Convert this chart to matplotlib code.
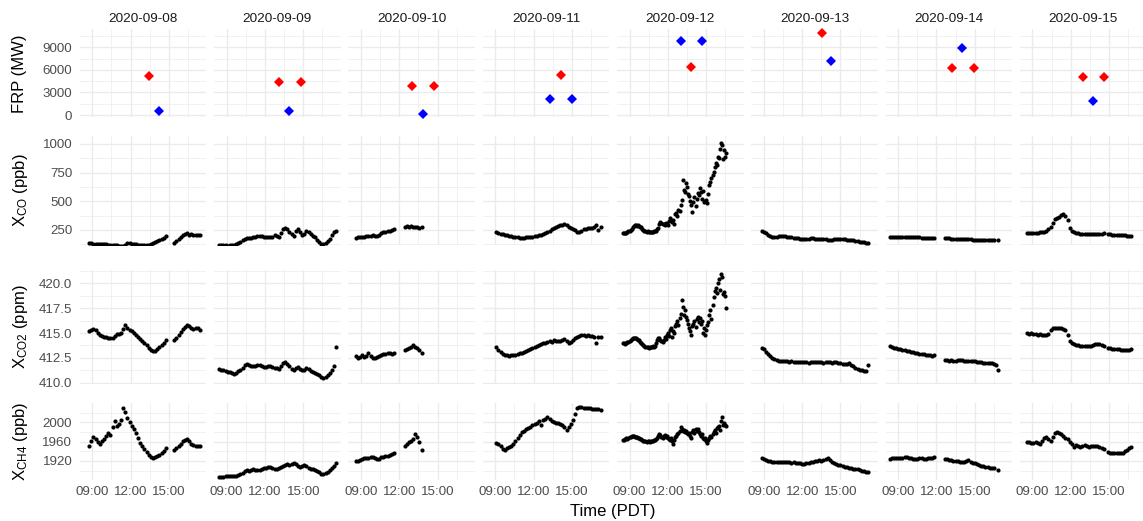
import numpy as np
import matplotlib
matplotlib.use("Agg")
import matplotlib.pyplot as plt
from matplotlib.ticker import FixedLocator, FuncFormatter, FormatStrFormatter

nan = np.nan

# ---------------------------------------------------------------- data
days = ["2020-09-08", "2020-09-09", "2020-09-10", "2020-09-11",
        "2020-09-12", "2020-09-13", "2020-09-14", "2020-09-15"]

# first retrieval of each day (local time) and sampling interval in minutes
start_times = ["08:45", "08:25", "08:35", "09:05", "08:30", "08:50", "08:20", "08:35"]
step_minutes = [10, 10, 10, 10, 5, 10, 10, 10]

# ---- 2020-09-08
xco_0908 = [134, 133, 132, 130, 128, 127, 127, 125, 124, 122, 121, 120, 118, 115, 112,
            110, 112, 122, 135, 138, 130, 126, 124, 120, 116, 115, 116, 118, 122, 128,
            135, 142, 150, 160, 170, 180, 195, nan, nan, nan,
            138, 150, 168, 190, 205, 212, 222, 210, 212, 205, 208, 205, 208]
xco2_0908 = [415.2, 415.3, 415.4, 415.3, 415.0, 414.8, 414.7, 414.6, 414.55, 414.5,
             414.5, 414.45, 414.7, 414.95, 414.9, 415.0, 415.4, 415.8, 415.5, 415.3,
             415.2, 415.0, 414.8, 414.6, 414.4, 414.2, 414.0, 413.8, 413.5, 413.3,
             413.2, 413.2, 413.4, 413.6, 413.8, 414.0, 414.3, nan, nan, nan,
             414.3, 414.5, 414.8, 415.1, 415.4, 415.6, 415.8, 415.7, 415.5, 415.4,
             415.55, 415.5, 415.3]
xch4_0908 = [1952, 1962, 1970, 1965, 1960, 1956, 1962, 1966, 1972, 1978, 1974, 1990,
             2003, 1992, 1997, 2005, 2030, 2022, 2008, 2000, 1993, 1986, 1978, 1968,
             1958, 1950, 1944, 1938, 1933, 1929, 1927, 1928, 1930, 1933, 1936, 1940,
             1946, nan, nan, nan,
             1942, 1946, 1951, 1956, 1961, 1964, 1966, 1961, 1956, 1953, 1952, 1951, 1950]

# ---- 2020-09-09
xco_0909 = [118, 117, 116, 115, 114, 116, 118, 120, 125, 135, 145, 160, 172, 178, 176,
            182, 186, 190, 195, 198, 195, 192, 190, 188, 186, 192, 205, 200, 188, 220,
            255, 268, 255, 235, 215, 200, 240, 255, 230, 210, 215, 245, 235, 218, 200,
            185, 165, 148, 130, 128, 135, 150, 175, 205, 232, 238]
xco2_0909 = [411.4, 411.3, 411.25, 411.2, 411.1, 411.05, 410.95, 410.9, 411.0, 411.15,
             411.3, 411.5, 411.75, 411.85, 411.8, 411.7, 411.65, 411.7, 411.8, 411.75,
             411.7, 411.6, 411.55, 411.65, 411.7, 411.6, 411.5, 411.45, 411.4, 411.7,
             411.95, 412.05, 411.9, 411.65, 411.4, 411.25, 411.5, 411.55, 411.35, 411.25,
             411.3, 411.45, 411.35, 411.15, 411.05, 410.95, 410.9, 410.75, 410.55, 410.5,
             410.6, 410.75, 410.95, 411.3, 411.65, 413.6]
xch4_0909 = [1886, 1887, 1887, 1888, 1888, 1889, 1889, 1890, 1890, 1891, 1893, 1896,
             1899, 1901, 1900, 1902, 1903, 1902, 1901, 1901, 1903, 1905, 1905, 1907,
             1908, 1906, 1903, 1904, 1906, 1908, 1909, 1911, 1913, 1911, 1913, 1915,
             1914, 1910, 1907, 1909, 1912, 1909, 1905, 1904, 1903, 1901, 1899, 1897,
             1894, 1894, 1896, 1897, 1901, 1905, 1910, 1916]

# ---- 2020-09-10
xco_0910 = [183, 185, 188, 190, 193, 196, 198, 200, 204, 200, 195, 205, 222, 230, 235,
            238, 240, 248, 258, nan, nan, nan, nan,
            275, 282, 278, 285, 276, 280, 272, 270, 278]
xco2_0910 = [412.7, 412.5, 412.6, 412.8, 412.55, 412.7, 412.95, 412.7, 412.5, 412.45,
             412.6, 412.72, 412.75, 412.85, 412.9, 413.0, 412.95, 412.85, 412.95,
             nan, nan, nan, nan,
             413.3, 413.4, 413.5, 413.6, 413.75, 413.6, 413.45, 413.3, 413.0]
xch4_0910 = [1919, 1920, 1923, 1925, 1926, 1927, 1927, 1928, 1928, 1926, 1924, 1925,
             1928, 1929, 1930, 1931, 1932, 1934, 1936, nan, nan, nan, nan,
             1950, 1955, 1960, 1962, 1966, 1975, 1970, 1960, 1943]

# ---- 2020-09-11
xco_0911 = [230, 224, 218, 212, 207, 203, 199, 195, 192, 188, 186, 184, 183, 183, 185,
            187, 190, 193, 196, 199, 203, 208, 215, 225, 233, 242, 255, 266, 277, 285,
            292, 297, 299, 294, 280, 268, 260, 248, 235, 232, 245, 258, 262, 264, 266,
            264, 272, 292, 252, 280]
xco2_0911 = [413.6, 413.3, 413.05, 412.9, 412.8, 412.75, 412.72, 412.75, 412.8, 412.78,
             412.85, 412.95, 413.0, 413.05, 413.2, 413.3, 413.4, 413.5, 413.6, 413.7,
             413.8, 413.85, 414.0, 413.95, 414.1, 414.15, 414.1, 414.3, 414.2, 414.15,
             414.2, 414.3, 414.4, 414.2, 414.0, 414.1, 414.3, 414.45, 414.6, 414.7,
             414.8, 414.75, 414.7, 414.75, 414.7, 414.65, 414.6, 414.0, 414.6, 414.55]
xch4_0911 = [1958, 1956, 1952, 1944, 1943, 1947, 1949, 1951, 1955, 1962, 1968, 1974,
             1979, 1983, 1986, 1988, 1990, 1994, 1997, 1999, 2002, 1995, 2004, 2006,
             2010, 2007, 2003, 2001, 1999, 1998, 1996, 1995, 1990, 1984, 1990, 1996,
             2005, 2018, 2030, 2032, 2031, 2030, 2030, 2029, 2029, 2028, 2028, 2027,
             2027, 2026]

# ---- 2020-09-12 (5-minute sampling)
xco_0912 = [221, 222, 224, 228, 230, 238, 245, 250, 262, 272,
            285, 292, 290, 287, 290, 284, 280, 276, 262, 248,
            240, 238, 236, 238, 235, 233, 236, 234, 236, 240,
            238, 245, 255, 270, 300, 320, 312, 305, 300, 290,
            310, 298, 290, 330, 352, 335, 318, 340, 300, 390,
            400, 372, 425, 415, 470, 510, 690, 600, 580, 660,
            628, 560, 545, 500, 470, 405, 495, 540, 460, 520,
            570, 555, 612, 580, 520, 590, 490, 500, 512, 485,
            560, 640, 672, 700, 730, 760, 800, 830, 820, 890,
            880, 960, 1005, 990, 870, 950, 890, 920]
xco2_0912 = [414.0, 413.95, 413.9, 414.0, 414.05, 414.1, 414.15, 414.3, 414.4, 414.45,
             414.5, 414.5, 414.45, 414.4, 414.3, 414.25, 414.1, 414.0, 413.9, 413.75,
             413.65, 413.6, 413.55, 413.6, 413.5, 413.55, 413.6, 413.55, 413.65, 413.6,
             413.7, 414.0, 414.3, 414.5, 414.45, 414.3, 414.2, 414.1, 414.3, 414.6,
             414.4, 414.8, 415.0, 414.7, 415.3, 415.5, 414.6, 415.2, 415.0, 415.7,
             415.9, 416.2, 415.8, 416.5, 416.9, 418.3, 417.6, 416.8, 417.3, 416.6,
             416.3, 415.9, 415.5, 415.2, 414.8, 415.7, 415.9, 416.2, 415.6, 416.4,
             416.6, 416.1, 416.5, 415.9, 416.2, 415.0, 415.5, 414.8, 415.3, 415.8,
             416.1, 416.8, 417.3, 416.4, 417.8, 418.6, 419.2, 419.5, 419.0, 420.0,
             420.4, 419.3, 420.9, 420.6, 418.9, 419.1, 418.7, 417.5]
xch4_0912 = [1963, 1964, 1965, 1967, 1966, 1968, 1969, 1970, 1971, 1972,
             1971, 1970, 1970, 1969, 1968, 1967, 1966, 1965, 1963, 1962,
             1961, 1961, 1960, 1961, 1961, 1960, 1961, 1962, 1962, 1963,
             1963, 1965, 1968, 1972, 1975, 1973, 1970, 1968, 1971, 1973,
             1970, 1972, 1968, 1966, 1964, 1968, 1962, 1955, 1963, 1970,
             1972, 1975, 1977, 1983, 1990, 1986, 1982, 1984, 1979, 1981,
             1977, 1975, 1978, 1972, 1968, 1980, 1984, 1978, 1986, 1983,
             1987, 1980, 1976, 1972, 1975, 1968, 1965, 1967, 1962, 1958,
             1964, 1968, 1972, 1970, 1976, 1980, 1984, 1978, 1988, 1990,
             1992, 1985, 2003, 2012, 1995, 1998, 1994, 1992]

# ---- 2020-09-13
xco_0913 = [241, 236, 222, 205, 195, 192, 193, 192, 194, 196, 198, 196, 192, 188, 186,
            184, 182, 178, 175, 172, 170, 172, 175, 177, 176, 174, 174, 172, 170, 168,
            167, 166, 164, 163, 168, 172, 174, 171, 169, 168, 166, 164, 163, 160, 155,
            150, 146, 143, 141, 140, 140]
xco2_0913 = [413.5, 413.35, 413.1, 412.85, 412.65, 412.5, 412.4, 412.3, 412.2, 412.15,
             412.2, 412.15, 412.2, 412.1, 412.15, 412.1, 412.1, 412.05, 412.1, 412.05,
             412.1, 412.05, 412.0, 412.1, 412.05, 412.1, 412.05, 412.1, 412.05, 412.0,
             412.05, 412.1, 412.05, 412.0, 412.1, 412.05, 412.0, 411.95, 411.9, 411.85,
             411.9, 411.95, 411.8, 411.65, 411.5, 411.4, 411.3, 411.25, 411.2, 411.2,
             411.75]
xch4_0913 = [1927, 1925, 1922, 1920, 1919, 1918, 1918, 1917, 1918, 1917, 1917, 1918,
             1917, 1917, 1916, 1917, 1916, 1915, 1915, 1914, 1913, 1915, 1916, 1917,
             1918, 1920, 1921, 1922, 1921, 1922, 1924, 1926, 1922, 1918, 1916, 1914,
             1912, 1911, 1910, 1908, 1907, 1906, 1905, 1904, 1904, 1903, 1902, 1900,
             1899, 1898, 1897]

# ---- 2020-09-14
xco_0914 = [186, 187, 188, 188, 189, 190, 190, 191, 191, 192, 191, 189, 188, 186, 185,
            184, 183, 182, 181, 180, 179, 179, nan, nan, nan, nan,
            178, 177, 176, 175, 174, 173, 172, 171, 170, 169, 168, 168, 167, 166, 165,
            165, 164, 163, 163, 162, 162, 161, 161, 160, nan, 163]
xco2_0914 = [413.65, 413.55, 413.5, 413.45, 413.4, 413.35, 413.3, 413.25, 413.2, 413.15,
             413.1, 413.05, 413.0, 412.95, 412.9, 412.9, 412.85, 412.8, 412.78, 412.75,
             412.72, 412.75, nan, nan, nan, nan,
             412.25, 412.25, 412.22, 412.25, 412.22, 412.2, 412.25, 412.3, 412.25, 412.2,
             412.22, 412.2, 412.2, 412.15, 412.15, 412.1, 412.05, 412.05, 412.0, 412.0,
             411.95, 411.95, 412.0, 411.9, 411.8, 411.3]
xch4_0914 = [1925, 1926, 1926, 1926, 1927, 1927, 1927, 1928, 1928, 1927, 1926, 1925,
             1925, 1925, 1926, 1926, 1925, 1925, 1926, 1927, 1927, 1928, nan, nan, nan, nan,
             1925, 1924, 1923, 1922, 1921, 1920, 1919, 1918, 1917, 1918, 1920, 1922,
             1918, 1916, 1915, 1914, 1912, 1910, 1909, 1908, 1907, 1906, 1906, 1905,
             nan, 1902]

# ---- 2020-09-15
xco_0915 = [228, 227, 227, 227, 228, 228, 230, 232, 236, 243, 255, 280, 315, 345, 358,
            366, 378, 385, 372, 335, 270, 240, 230, 225, 220, 216, 214, 212, 212, 211,
            211, 212, 213, 214, 216, 218, 221, nan, 213, 211, 209, 208, 206, 205, 204,
            203, 202, 201, 201, 201]
xco2_0915 = [415.05, 414.9, 415.0, 414.95, 414.95, 414.85, 414.9, 414.8, 414.75, 414.8,
             414.95, 415.3, 415.55, 415.5, 415.55, 415.5, 415.5, 415.45, 415.3, 414.8,
             414.2, 413.95, 413.85, 413.8, 413.75, 413.7, 413.72, 413.7, 413.68, 413.7,
             413.72, 413.8, 413.85, 413.88, 413.9, 413.8, 413.7, nan, 413.5, 413.45,
             413.42, 413.4, 413.38, 413.35, 413.32, 413.3, 413.3, 413.28, 413.32, 413.36]
xch4_0915 = [1960, 1959, 1958, 1958, 1959, 1957, 1956, 1962, 1967, 1970, 1966, 1962,
             1970, 1978, 1980, 1977, 1975, 1972, 1968, 1965, 1960, 1955, 1949, 1953,
             1952, 1949, 1951, 1953, 1951, 1949, 1950, 1952, 1951, 1950, 1949, 1947,
             1945, nan, 1939, 1937, 1936, 1936, 1936, 1936, 1937, 1937, 1940, 1943,
             1946, 1949]

# fire radiative power of the overpasses (day index, local hour, MW)
frp_red_day = [0, 1, 1, 2, 2, 3, 4, 5, 6, 6, 7, 7]
frp_red_hour = [13.42, 13.13, 14.83, 13.0, 14.7, 14.13, 13.79, 13.56, 13.22, 14.94, 12.94, 14.63]
frp_red_mw = [5190, 4430, 4430, 3850, 3850, 5280, 6420, 10900, 6210, 6210, 5090, 5090]

frp_blue_day = [0, 1, 2, 3, 3, 4, 4, 5, 6, 7]
frp_blue_hour = [14.22, 13.91, 13.85, 13.29, 15.03, 13.0, 14.65, 14.26, 14.03, 13.72]
frp_blue_mw = [500, 500, 150, 2170, 2170, 9800, 9800, 7180, 8950, 1900]

xco_by_day = [xco_0908, xco_0909, xco_0910, xco_0911, xco_0912, xco_0913, xco_0914, xco_0915]
xco2_by_day = [xco2_0908, xco2_0909, xco2_0910, xco2_0911, xco2_0912, xco2_0913, xco2_0914, xco2_0915]
xch4_by_day = [xch4_0908, xch4_0909, xch4_0910, xch4_0911, xch4_0912, xch4_0913, xch4_0914, xch4_0915]

# ---------------------------------------------------------------- style
plt.rcParams["font.family"] = ["Liberation Sans", "DejaVu Sans"]
plt.rcParams["mathtext.fontset"] = "custom"
plt.rcParams["mathtext.rm"] = "Liberation Sans"
plt.rcParams["mathtext.it"] = "Liberation Sans:italic"
plt.rcParams["mathtext.bf"] = "Liberation Sans:bold"

GRID = "#EBEBEB"
TICK_COL = "#4D4D4D"
STRIP_COL = "#1A1A1A"
TICK_SIZE = 9.6

W, H = 1143, 521
fig = plt.figure(figsize=(W / 100, H / 100), dpi=100)
fig.patch.set_facecolor("white")

col_left0, col_pitch, col_width = 79.8, 134.3, 126.6
rows = [(29.3, 117.5), (136.3, 245.0), (270.0, 384.0), (403.3, 480.0)]
xlim = (8.02, 17.93)

row_specs = [
    dict(ylim=(-332, 11393), major=[0, 3000, 6000, 9000],
         minor=[1500, 4500, 7500, 10500], fmt="%d",
         label="FRP (MW)"),
    dict(ylim=(119, 1067), major=[250, 500, 750, 1000],
         minor=[125, 375, 625, 875], fmt="%d",
         label=r"X$_{\mathrm{CO}}$ (ppb)"),
    dict(ylim=(409.87, 421.34), major=[410, 412.5, 415, 417.5, 420],
         minor=[411.25, 413.75, 416.25, 418.75, 421.25], fmt="%.1f",
         label=r"X$_{\mathrm{CO2}}$ (ppm)"),
    dict(ylim=(1880.7, 2039.3), major=[1920, 1960, 2000],
         minor=[1900, 1940, 1980, 2020], fmt="%d",
         label=r"X$_{\mathrm{CH4}}$ (ppb)"),
]


def rect(left, top, width, height):
    return [left / W, 1 - (top + height) / H, width / W, height / H]


def day_hours(d, n):
    hh, mm = start_times[d].split(":")
    t0 = int(hh) + int(mm) / 60
    return t0 + step_minutes[d] / 60 * np.arange(n)


hour_fmt = FuncFormatter(lambda v, p: f"{int(round(v)):02d}:00")

for r, (top, bottom) in enumerate(rows):
    spec = row_specs[r]
    for d in range(len(days)):
        left = col_left0 + col_pitch * d
        ax = fig.add_axes(rect(left, top, col_width, bottom - top))
        ax.set_facecolor("white")
        for s in ax.spines.values():
            s.set_visible(False)
        ax.set_xlim(*xlim)
        ax.set_ylim(*spec["ylim"])
        ax.xaxis.set_major_locator(FixedLocator([9, 12, 15]))
        ax.xaxis.set_minor_locator(FixedLocator([10.5, 13.5, 16.5]))
        ax.yaxis.set_major_locator(FixedLocator(spec["major"]))
        ax.yaxis.set_minor_locator(FixedLocator(spec["minor"]))
        ax.grid(which="major", color=GRID, linewidth=0.95)
        ax.grid(which="minor", color=GRID, linewidth=0.5)
        ax.set_axisbelow(True)
        ax.tick_params(which="both", length=0, labelsize=TICK_SIZE,
                       labelcolor=TICK_COL)
        ax.tick_params(axis="y", pad=5.4)
        ax.tick_params(axis="x", pad=4.3)
        ax.xaxis.set_major_formatter(hour_fmt)
        ax.yaxis.set_major_formatter(FormatStrFormatter(spec["fmt"]))
        if d > 0:
            ax.tick_params(axis="y", labelleft=False)
        if r < len(rows) - 1:
            ax.tick_params(axis="x", labelbottom=False)

        if r == 0:
            for day_idx, hr, mw in zip(frp_red_day, frp_red_hour, frp_red_mw):
                if day_idx == d:
                    ax.plot(hr, mw, marker="D", color="#FF0000", markersize=5.0,
                            markeredgewidth=0, linestyle="none", clip_on=False)
            for day_idx, hr, mw in zip(frp_blue_day, frp_blue_hour, frp_blue_mw):
                if day_idx == d:
                    ax.plot(hr, mw, marker="D", color="#0000FF", markersize=5.0,
                            markeredgewidth=0, linestyle="none", clip_on=False)
        else:
            series = [xco_by_day, xco2_by_day, xch4_by_day][r - 1][d]
            vals = np.asarray(series, dtype=float)
            hrs = day_hours(d, len(vals))
            ax.plot(hrs, vals, marker="o", color="black", markersize=3.0,
                    markeredgewidth=0, linestyle="none")

    # row title
    fig.text(20 / W, 1 - (top + bottom) / 2 / H, spec["label"], rotation=90,
             ha="center", va="center", fontsize=12, color="black")

# strip labels
for d, day in enumerate(days):
    cx = col_left0 + col_pitch * d + col_width / 2
    fig.text(cx / W, 1 - 21.5 / H, day, ha="center", va="baseline",
             fontsize=9.7, color=STRIP_COL)

# shared x title
mid = (col_left0 + col_left0 + col_pitch * 7 + col_width) / 2
fig.text(mid / W, 1 - 516 / H, "Time (PDT)", ha="center", va="baseline",
         fontsize=12, color="black")

fig.savefig("out.png", dpi=100, facecolor="white")
